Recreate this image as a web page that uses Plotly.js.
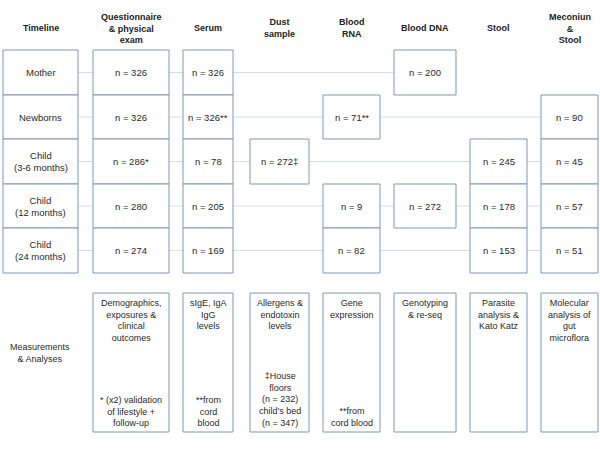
<!DOCTYPE html>
<html>
<head>
<meta charset="utf-8">
<script src="https://cdn.plot.ly/plotly-3.0.1.min.js"></script>
<style>html,body{margin:0;padding:0;background:#fff;}#chart{width:600px;height:450px;}</style>
</head>
<body>
<div id="chart"></div>
<script>
// ---- data ----
const columns = ['Timeline', 'Questionnaire<br>& physical<br>exam', 'Serum', 'Dust<br>sample', 'Blood<br>RNA', 'Blood DNA', 'Stool', 'Meconiun<br>&<br>Stool'];
const timeline = ['Mother', 'Newborns', 'Child<br>(3-6 months)', 'Child<br>(12 months)', 'Child<br>(24 months)'];
const questionnaire = ['326', '326', '286*', '280', '274'];
const serum = ['326', '326**', '78', '205', '169'];
const dust = [null, null, '272\u2021', null, null];
const bloodRNA = [null, '71**', null, '9', '82'];
const bloodDNA = ['200', null, null, '272', null];
const stool = [null, null, '245', '178', '153'];
const meconium = [null, '90', '45', '57', '51'];
const rowLabel = 'Measurements<br>& Analyses';
const analyses = ['Demographics,<br>exposures &<br>clinical<br>outcomes', 'sIgE, IgA<br>IgG<br>levels', 'Allergens &<br>endotoxin<br>levels', 'Gene<br>expression', 'Genotyping<br>& re-seq', 'Parasite<br>analysis &<br>Kato Katz', 'Molecular<br>analysis of<br>gut<br>microflora'];
const notes = ['* (x2) validation<br>of lifestyle +<br>follow-up', '**from<br>cord<br>blood', '\u2021House<br>floors<br>(n = 232)<br>child\u2019s bed<br>(n = 347)', '**from<br>cord blood', '', '', ''];

// ---- layout geometry ----
const colL = [3, 93, 183, 250, 323, 394, 470, 541];
const colR = [78, 169, 233, 309, 380, 456, 527, 598];
const rowT = [50, 95, 139, 184, 228];
const rowB = [95, 139, 184, 228, 273];
const headY = 28;
const botT = 293, botB = 432;

const boxColor = '#7c97b8';
const lineColor = '#d6dee7';
const textColor = '#2a2a2a';
const font = "Arial, 'Liberation Sans', sans-serif";
const fs = 9.5;
const fsB = 9;

const counts = [questionnaire, serum, dust, bloodRNA, bloodDNA, stool, meconium];
const shapes = [];
const ann = [];

// connector lines
for (let r = 0; r < timeline.length; r++) {
  let last = 0;
  counts.forEach((c, i) => { if (c[r] !== null) last = i + 1; });
  const yc = (rowT[r] + rowB[r]) / 2;
  shapes.push({type: 'line', x0: colR[0], x1: colL[last], y0: yc, y1: yc, line: {color: lineColor, width: 1}});
}
// headers
columns.forEach((c, i) => {
  ann.push({x: (colL[i] + colR[i]) / 2, y: headY, text: '<b>' + c + '</b>', showarrow: false,
    xanchor: 'center', yanchor: 'middle', font: {family: font, size: 9, color: '#222'}});
});
// timeline boxes
timeline.forEach((t, r) => {
  shapes.push({type: 'rect', x0: colL[0], x1: colR[0], y0: rowT[r], y1: rowB[r], fillcolor: '#fff', line: {color: boxColor, width: 1}});
  ann.push({x: (colL[0] + colR[0]) / 2, y: (rowT[r] + rowB[r]) / 2, text: t, showarrow: false,
    font: {family: font, size: fs, color: textColor}});
});
// count boxes
counts.forEach((c, i) => {
  const k = i + 1;
  c.forEach((v, r) => {
    if (v === null) return;
    shapes.push({type: 'rect', x0: colL[k], x1: colR[k], y0: rowT[r], y1: rowB[r], fillcolor: '#fff', line: {color: boxColor, width: 1}});
    ann.push({x: (colL[k] + colR[k]) / 2, y: (rowT[r] + rowB[r]) / 2, text: 'n = ' + v, showarrow: false,
      font: {family: font, size: fs, color: textColor}});
  });
});
// analyses boxes
analyses.forEach((a, i) => {
  const k = i + 1;
  shapes.push({type: 'rect', x0: colL[k], x1: colR[k], y0: botT, y1: botB, fillcolor: '#fff', line: {color: boxColor, width: 1}});
  ann.push({x: (colL[k] + colR[k]) / 2, y: botT + 3, text: a, showarrow: false, xanchor: 'center', yanchor: 'top',
    font: {family: font, size: fsB, color: textColor}});
  if (notes[i]) {
    ann.push({x: (colL[k] + colR[k]) / 2, y: botB - 2, text: notes[i], showarrow: false, xanchor: 'center', yanchor: 'bottom',
      font: {family: font, size: fsB, color: textColor}});
  }
});
ann.push({x: 40, y: 353, text: rowLabel, showarrow: false, font: {family: font, size: fsB, color: textColor}});

Plotly.newPlot('chart', [{x: [], y: [], type: 'scatter', mode: 'markers', hoverinfo: 'skip'}], {
  width: 600, height: 450,
  margin: {l: 0, r: 0, t: 0, b: 0},
  paper_bgcolor: '#fff', plot_bgcolor: '#fff',
  showlegend: false,
  xaxis: {range: [0, 600], visible: false, fixedrange: true},
  yaxis: {range: [450, 0], visible: false, fixedrange: true},
  shapes: shapes,
  annotations: ann
}, {displayModeBar: false, staticPlot: true});
</script>
</body>
</html>
